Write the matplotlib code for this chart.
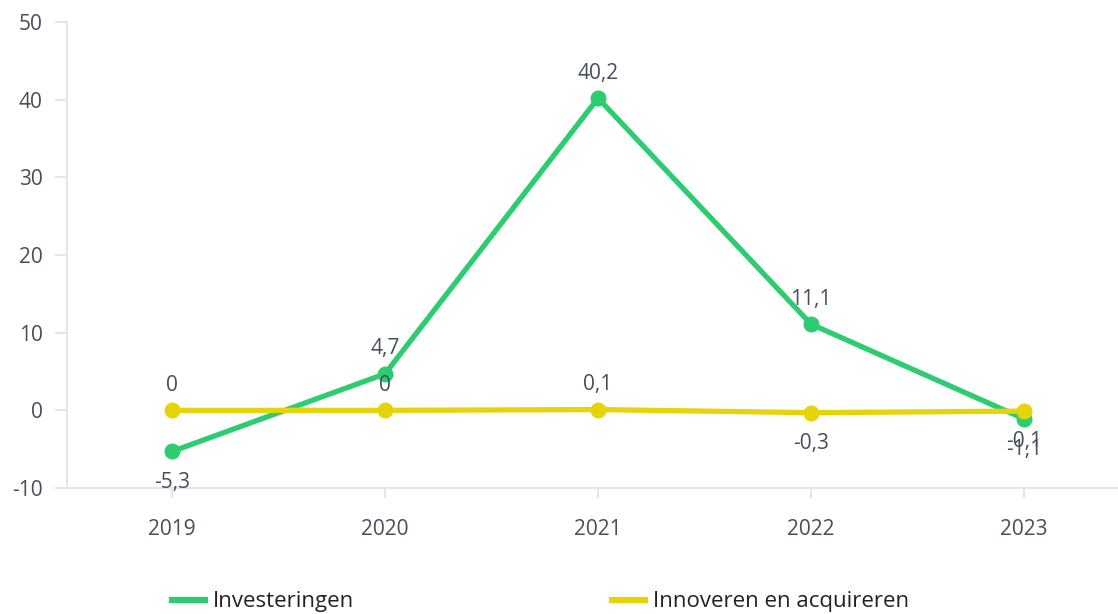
import matplotlib
matplotlib.use("Agg")
import matplotlib.pyplot as plt
from matplotlib.lines import Line2D

years = ["2019", "2020", "2021", "2022", "2023"]
investeringen = [-5.3, 4.7, 40.2, 11.1, -1.1]
innoveren = [0.0, 0.0, 0.1, -0.3, -0.1]
inv_label_pos = ["below", "above", "above", "above", "below"]
inn_label_pos = ["above", "above", "above", "below", "below"]
yticks = [-10, 0, 10, 20, 30, 40, 50]
series_names = ["Investeringen", "Innoveren en acquireren"]

GREEN = "#2ecc71"
YELLOW = "#e6d40b"
TEXT = "#464e5c"
AXIS = "#e3e6f2"

plt.rcParams['font.family'] = ['Open Sans', 'DejaVu Sans']

fig = plt.figure(figsize=(11.18, 6.14), dpi=100)
ax = fig.add_axes([67/1118, 126/614, (1118-67)/1118, 466/614])

x = list(range(len(years)))
ax.plot(x, investeringen, color=GREEN, lw=3.8, marker='o', ms=10.5, zorder=3,
        solid_capstyle='round')
ax.plot(x, innoveren, color=YELLOW, lw=3.8, marker='o', ms=10.5, zorder=4,
        solid_capstyle='round')

def fmt(v):
    if v == 0:
        return "0"
    return f"{v:.1f}".replace(".", ",")

for vals, poss in ((investeringen, inv_label_pos), (innoveren, inn_label_pos)):
    for xi, v, p in zip(x, vals, poss):
        off = 18 if p == "above" else -22
        ax.annotate(fmt(v), (xi, v), xytext=(0, off), textcoords='offset points',
                    ha='center', va='center', fontsize=15, color=TEXT, zorder=5)

ax.set_xlim(-0.493, 4.441)
ax.set_ylim(-10, 50)
ax.set_xticks(x)
ax.set_xticklabels(years)
ax.set_yticks(yticks)
ax.set_yticklabels([str(t) for t in yticks])

for s in ['top', 'right']:
    ax.spines[s].set_visible(False)
for s in ['left', 'bottom']:
    ax.spines[s].set_color(AXIS)
    ax.spines[s].set_linewidth(1.5)
ax.tick_params(axis='both', colors=AXIS, width=1.5, labelsize=15,
               labelcolor=TEXT)
ax.tick_params(axis='x', length=7.5, pad=15)
ax.tick_params(axis='y', length=8.6, pad=9)

handles = [Line2D([0], [0], color=GREEN, lw=4.5),
           Line2D([0], [0], color=YELLOW, lw=4.5)]
for h, name, xpos in zip(handles, series_names, (172, 612)):
    fig.legend([h], [name], loc='center left',
               bbox_to_anchor=(xpos/1118, 1 - 602/614),
               frameon=False, fontsize=16, handlelength=1.5,
               handletextpad=0.36, borderpad=0, borderaxespad=0,
               labelcolor='#222222')

fig.savefig("out.png", dpi=100)
